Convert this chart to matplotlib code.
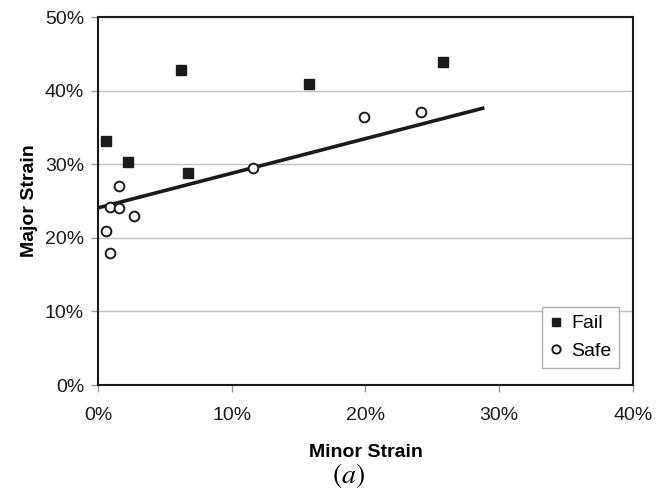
import matplotlib
matplotlib.use("Agg")
import matplotlib.pyplot as plt
from matplotlib.ticker import FuncFormatter

# strain values in percent
fail_minor = [0.57, 2.27, 6.2, 6.75, 15.76, 25.77]
fail_major = [33.2, 30.3, 42.8, 28.85, 40.9, 43.9]

safe_minor = [0.58, 0.9, 0.9, 1.57, 1.57, 2.71, 11.6, 19.9, 24.15]
safe_major = [20.9, 17.9, 24.2, 27.1, 24.1, 23.0, 29.55, 36.4, 37.1]

trend_minor = [0.15, 28.76]
trend_major = [24.14, 37.6]

x_ticks = [0, 10, 20, 30, 40]
y_ticks = [0, 10, 20, 30, 40, 50]

plt.rcParams['font.family'] = ['Liberation Sans', 'DejaVu Sans']
plt.rcParams['mathtext.fontset'] = 'stix'

fig = plt.figure(figsize=(6.67, 4.93), dpi=100, facecolor="w")
ax = fig.add_axes([0.1469, 0.219, 0.8021, 0.7465])

ax.grid(axis='y', color='#c0c0c0', lw=1.0)
ax.set_axisbelow(True)

ax.plot(trend_minor, trend_major, c='#1a1a1a', lw=2.6, zorder=2)
ax.plot(fail_minor, fail_major, 's', ms=7, c='#1a1a1a', mec='#1a1a1a',
        label='Fail', zorder=3)
ax.plot(safe_minor, safe_major, 'o', ms=7, mfc='white', mec='#1a1a1a',
        mew=1.4, label='Safe', zorder=3)

ax.set_xlim(0, 40)
ax.set_ylim(0, 50)
ax.set_xticks(x_ticks)
ax.set_yticks(y_ticks)
pct = FuncFormatter(lambda v, p: f"{v:.0f}%")
ax.xaxis.set_major_formatter(pct)
ax.yaxis.set_major_formatter(pct)
ax.tick_params(axis='both', labelsize=14, color='#999999', length=5,
               width=1, labelcolor='#1a1a1a')
ax.tick_params(axis='x', pad=11)
ax.tick_params(axis='y', pad=5)

for s in ax.spines.values():
    s.set_color('#1a1a1a')
    s.set_linewidth(1.5)

ax.set_xlabel('Minor Strain', fontsize=14, fontweight='bold', labelpad=14)
ax.set_ylabel('Major Strain', fontsize=14, fontweight='bold', labelpad=5)

fig.text(0.522, 0.036, r'$(a)$', fontsize=20, ha='center', va='center')

leg = ax.legend(loc='upper left', bbox_to_anchor=(0.83, 0.212), fontsize=14,
                frameon=True, fancybox=False, edgecolor='#999999',
                handlelength=0.6, handletextpad=0.5, borderpad=0.4,
                labelspacing=0.5, borderaxespad=0, markerscale=0.85)
leg.get_frame().set_linewidth(1.0)

plt.savefig("out.png", dpi=100, facecolor="w")
